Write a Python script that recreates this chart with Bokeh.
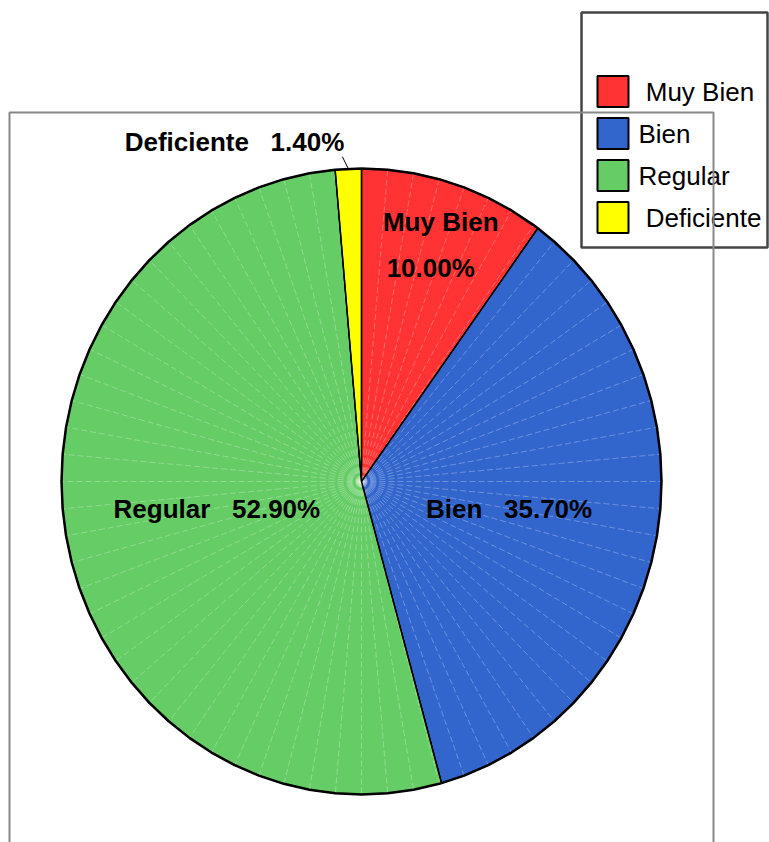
import numpy as np
from bokeh.plotting import figure
from bokeh.models import Range1d
from bokeh.core.properties import value
from bokeh.embed import file_html
from bokeh.resources import INLINE

categories = ["Muy Bien", "Bien", "Regular", "Deficiente"]
values = [10.0, 35.7, 52.9, 1.4]
pct_labels = ["10.00%", "35.70%", "52.90%", "1.40%"]
colors = ["#FF3333", "#3366CC", "#66CC66", "#FFFF00"]

W, H = 769, 842
cx, cy, rx, ry = 361, 481, 300, 313
step = 5.0
FONT = value("Liberation Sans")

p = figure(width=W, height=H, x_range=Range1d(0, W), y_range=Range1d(H, 0),
           output_backend="svg", toolbar_location=None, min_border=0)
p.axis.visible = False
p.grid.visible = False
p.outline_line_color = None
p.background_fill_color = "white"
p.border_fill_color = "white"


def pt(deg, r=1.0):
    a = np.radians(deg)
    return cx + r * rx * np.sin(a), cy - r * ry * np.cos(a)


total = sum(values)
starts, ends = [], []
acc = 0.0
for v in values:
    starts.append(acc / total * 360.0)
    acc += v
    ends.append(acc / total * 360.0)

# slices (faceted polygon look)
xs, ys = [], []
for s, e in zip(starts, ends):
    angs = [s] + [a for a in np.arange(0, 360, step) if s + 0.3 < a < e - 0.3] + [e]
    pts = [pt(a) for a in angs]
    xs.append([cx] + [q[0] for q in pts])
    ys.append([cy] + [q[1] for q in pts])
p.patches(xs, ys, fill_color=colors, line_color="black", line_width=1.2)

# faint facet lines
fx0, fy0, fx1, fy1 = [], [], [], []
for a in np.arange(0, 360, step):
    if min(abs(a - b) for b in starts + ends) < 0.3:
        continue
    x1, y1 = pt(a)
    fx0.append(cx); fy0.append(cy); fx1.append(x1); fy1.append(y1)
p.segment(fx0, fy0, fx1, fy1, line_color="white", line_alpha=0.35, line_width=0.8, line_dash="6 3")

# slice boundaries
bx1, by1 = zip(*[pt(a) for a in starts])
p.segment([cx] * len(starts), [cy] * len(starts), list(bx1), list(by1), line_color="black", line_width=1.5)

# outer outline
oangs = sorted(set(list(np.arange(0, 360, step)) + starts + ends))
opts = [pt(a) for a in oangs] + [pt(oangs[0])]
p.line([q[0] for q in opts], [q[1] for q in opts], line_color="black", line_width=2.5)

# labels
mids = [(s + e) / 2 for s, e in zip(starts, ends)]
nb = "\u00a0\u00a0\u00a0"
# Muy Bien: two lines inside
mx, my = pt(mids[0], 0.79)
p.text([mx + 6, mx - 4], [my - 24, my + 22], text=[categories[0], pct_labels[0]],
       text_font=FONT, text_font_style="bold", text_font_size="26px",
       text_align="center", text_baseline="middle", text_color="black")
# Bien and Regular: one line inside
for i, r in [(1, 0.5), (2, 0.49)]:
    lx, ly = pt(mids[i], r)
    p.text([lx], [ly], text=[categories[i] + nb + pct_labels[i]],
           text_font=FONT, text_font_style="bold", text_font_size="26px",
           text_align="center", text_baseline="middle", text_color="black")
# Deficiente: outside with leader line
l0x, l0y = pt(mids[3], 1.0)
l1x, l1y = pt(mids[3] - 1.0, 1.04)
p.line([l0x, l1x], [l0y, l1y], line_color="black", line_width=1)
p.text([l1x + 2], [l1y - 15], text=[categories[3] + nb + pct_labels[3]],
       text_font=FONT, text_font_style="bold", text_font_size="26px",
       text_align="right", text_baseline="middle", text_color="black")

# legend box
p.quad(left=[581], right=[767], top=[12], bottom=[247], fill_color="white",
       line_color="#444444", line_width=2.5)
ly_rows = [91 + 42 * i for i in range(len(categories))]
p.rect(x=[612.5] * len(categories), y=ly_rows, width=31, height=31,
       fill_color=colors, line_color="black", line_width=2)
prefix = ["\u00a0", "", "", "\u00a0"]
p.text([638] * len(categories), ly_rows, text=[pf + c for pf, c in zip(prefix, categories)],
       text_font=FONT, text_font_size="26px", text_align="left",
       text_baseline="middle", text_color="black")

# plot frame (drawn over legend, as in the original)
p.line([9, 9, 713, 713], [H + 10, 112, 112, H + 10], line_color="#888888", line_width=2)

open("out.html", "w").write(file_html(p, INLINE))
